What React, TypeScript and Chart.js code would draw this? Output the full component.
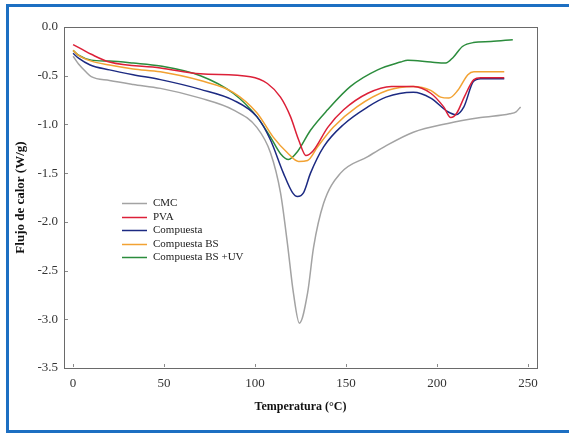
import React, { useEffect, useRef } from "react";
import { Chart, registerables } from "chart.js";

Chart.register(...registerables);

// Temperature (°C) and heat flow (W/g) for each sample
const cmcT = [0, 3, 7, 10, 20, 33, 48, 70, 88, 101, 108.5, 114, 117.8, 121.1, 124.4, 128.9, 132.2, 137.7, 147, 162, 171, 187, 206, 224, 240, 243.5, 246];
const cmcQ = [-0.30, -0.38, -0.46, -0.51, -0.55, -0.59, -0.63, -0.73, -0.85, -1.03, -1.29, -1.70, -2.22, -2.73, -3.04, -2.73, -2.26, -1.81, -1.50, -1.33, -1.23, -1.08, -0.99, -0.93, -0.89, -0.87, -0.82];

const pvaT = [0, 5, 10, 20, 48, 70, 97.5, 106.8, 114, 119.5, 124, 128, 132, 140, 148.7, 162, 175, 187, 196.6, 203.7, 207.6, 211, 215, 220.3, 224, 237];
const pvaQ = [-0.18, -0.23, -0.28, -0.36, -0.42, -0.48, -0.51, -0.58, -0.72, -0.92, -1.16, -1.32, -1.27, -1.03, -0.85, -0.68, -0.61, -0.61, -0.68, -0.82, -0.93, -0.88, -0.72, -0.54, -0.52, -0.52];

const compT = [0, 3, 9.4, 20, 33, 48, 70, 88, 101, 108.5, 115.6, 120.6, 123.3, 126.7, 130.5, 137.7, 148.7, 162, 172, 187, 196.6, 206, 210.4, 214.8, 220, 224, 237];
const compQ = [-0.27, -0.32, -0.39, -0.44, -0.49, -0.54, -0.64, -0.75, -0.92, -1.16, -1.50, -1.70, -1.74, -1.70, -1.50, -1.23, -1.00, -0.82, -0.72, -0.67, -0.73, -0.87, -0.90, -0.82, -0.56, -0.53, -0.53];

const bsT = [0, 3, 10, 20, 33, 48, 70, 88, 101, 110, 117.8, 124, 128.9, 134.4, 143, 156, 173, 187, 196.6, 202, 206.6, 211.5, 217, 220.3, 237];
const bsQ = [-0.24, -0.29, -0.35, -0.39, -0.43, -0.46, -0.55, -0.67, -0.88, -1.13, -1.29, -1.38, -1.37, -1.23, -1.03, -0.82, -0.65, -0.61, -0.65, -0.72, -0.73, -0.65, -0.49, -0.46, -0.46];

const uvT = [0, 3, 10, 20, 33, 48, 70, 88, 101, 108.5, 114, 118.4, 123.3, 130.5, 139.9, 152.5, 167.4, 180, 184, 196.6, 204.8, 209, 214, 220, 229.6, 241.7];
const uvQ = [-0.24, -0.29, -0.34, -0.35, -0.37, -0.40, -0.50, -0.68, -0.92, -1.13, -1.30, -1.36, -1.28, -1.06, -0.85, -0.61, -0.44, -0.36, -0.34, -0.36, -0.37, -0.31, -0.20, -0.16, -0.15, -0.13];

const seriesNames = ["CMC", "PVA", "Compuesta", "Compuesta BS", "Compuesta BS +UV"];
const seriesColors = ["#a3a3a3", "#dc2038", "#1c2a82", "#f2a233", "#2b8c3c"];

const xTickValues = [0, 50, 100, 150, 200, 250];
const yTickValues = [0, -0.5, -1.0, -1.5, -2.0, -2.5, -3.0, -3.5];

const xTitle = "Temperatura (°C)";
const yTitle = "Flujo de calor (W/g)";

const toPoints = (xs: number[], ys: number[]) => xs.map((x, i) => ({ x, y: ys[i] }));

const decorPlugin = {
  id: "decor",
  afterDraw(chart: any) {
    const { ctx, chartArea: a, scales } = chart;
    ctx.save();
    // inward tick marks
    ctx.strokeStyle = "#8a8a8a";
    ctx.lineWidth = 1;
    xTickValues.forEach((v) => {
      const px = Math.round(scales.x.getPixelForValue(v)) + 0.5;
      ctx.beginPath();
      ctx.moveTo(px, a.bottom - 1);
      ctx.lineTo(px, a.bottom - 4);
      ctx.stroke();
    });
    yTickValues.forEach((v) => {
      const py = Math.round(scales.y.getPixelForValue(v)) + 0.5;
      ctx.beginPath();
      ctx.moveTo(a.left + 1, py);
      ctx.lineTo(a.left + 4, py);
      ctx.stroke();
    });
    // frame box
    ctx.strokeStyle = "#6a6a6a";
    ctx.lineWidth = 1;
    ctx.strokeRect(Math.round(a.left) + 0.5, Math.round(a.top) + 0.5, Math.round(a.right - a.left), Math.round(a.bottom - a.top));
    // legend inside plot
    const lx = a.left + 58;
    const ly = a.top + 176;
    const rowH = 13.5;
    ctx.font = "11px 'Liberation Serif', serif";
    ctx.textBaseline = "middle";
    ctx.fillStyle = "#222";
    chart.data.datasets.forEach((ds: any, i: number) => {
      const y = Math.round(ly + i * rowH) + 0.5;
      ctx.strokeStyle = ds.borderColor;
      ctx.lineWidth = 1.5;
      ctx.beginPath();
      ctx.moveTo(lx, y);
      ctx.lineTo(lx + 25, y);
      ctx.stroke();
      ctx.fillText(ds.label, lx + 31, y);
    });
    ctx.restore();
  },
};

export default function App() {
  const ref = useRef<HTMLCanvasElement>(null);
  useEffect(() => {
    const allT = [cmcT, pvaT, compT, bsT, uvT];
    const allQ = [cmcQ, pvaQ, compQ, bsQ, uvQ];
    const chart = new Chart(ref.current as HTMLCanvasElement, {
      type: "line",
      data: {
        datasets: seriesNames.map((name, i) => ({
          label: name,
          data: toPoints(allT[i], allQ[i]),
          borderColor: seriesColors[i],
          backgroundColor: seriesColors[i],
          borderWidth: 1.5,
          pointRadius: 0,
          fill: false,
          cubicInterpolationMode: "monotone" as const,
        })),
      },
      options: {
        responsive: false,
        animation: false,
        layout: { padding: { left: 0, right: 32, top: 27, bottom: 0 } },
        plugins: { legend: { display: false }, tooltip: { enabled: false } },
        scales: {
          x: {
            type: "linear",
            min: -5,
            max: 255,
            afterBuildTicks: (s: any) => {
              s.ticks = xTickValues.map((v) => ({ value: v }));
            },
            afterFit: (s: any) => {
              s.height = 66;
            },
            grid: { display: false, drawTicks: false },
            border: { display: false },
            ticks: {
              autoSkip: false,
              maxRotation: 0,
              padding: 8,
              color: "#333",
              font: { family: "'Liberation Serif', serif", size: 13 },
            },
            title: {
              display: true,
              text: xTitle,
              color: "#111",
              padding: { top: 0, bottom: 20 },
              font: { family: "'Liberation Serif', serif", size: 12, weight: "bold" },
            },
          },
          y: {
            type: "linear",
            min: -3.5,
            max: 0,
            afterBuildTicks: (s: any) => {
              s.ticks = yTickValues.map((v) => ({ value: v }));
            },
            afterFit: (s: any) => {
              s.width = 64;
            },
            grid: { display: false, drawTicks: false },
            border: { display: false },
            ticks: {
              autoSkip: false,
              padding: 6,
              color: "#333",
              font: { family: "'Liberation Serif', serif", size: 13 },
              callback: (v: any) => Number(v).toFixed(1),
            },
            title: {
              display: true,
              text: yTitle,
              color: "#111",
              padding: { top: 13, bottom: 0 },
              font: { family: "'Liberation Serif', serif", size: 13, weight: "bold" },
            },
          },
        },
      },
      plugins: [decorPlugin],
    } as any);
    return () => chart.destroy();
  }, []);

  return (
    <div style={{ position: "fixed", left: 0, top: 0, width: 569, height: 434, background: "#fff", overflow: "hidden" }}>
      <div
        style={{
          position: "absolute",
          left: 6,
          top: 4,
          width: 620,
          height: 423,
          borderLeft: "3px solid #1d6fc2",
          borderTop: "3px solid #1d6fc2",
          borderBottom: "3px solid #1d6fc2",
        }}
      />
      <canvas ref={ref} width={569} height={434} style={{ position: "absolute", left: 0, top: 0, width: 569, height: 434 }} />
    </div>
  );
}
